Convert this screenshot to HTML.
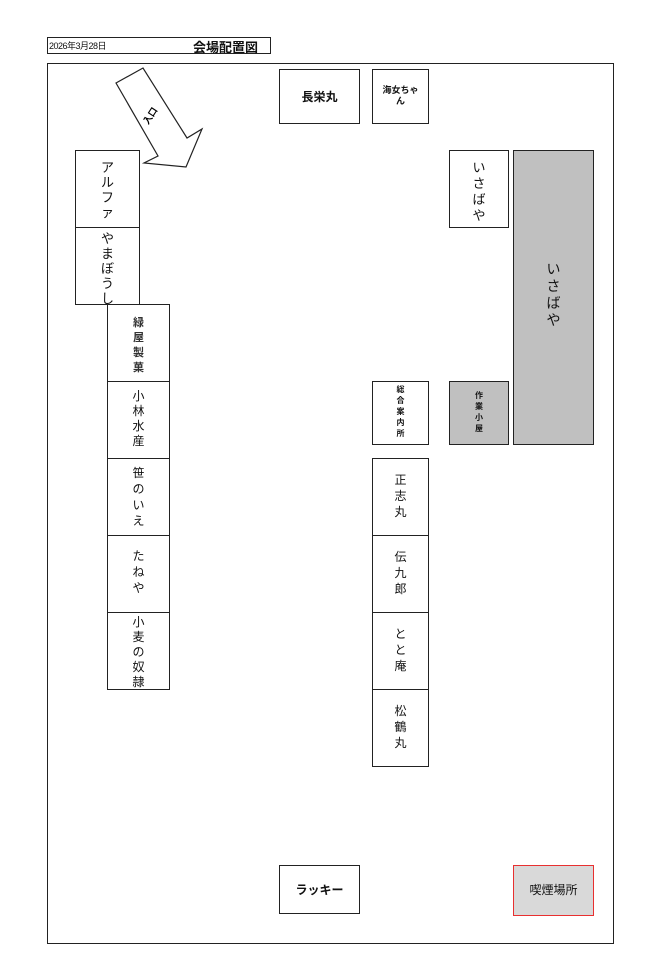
<!DOCTYPE html>
<html><head><meta charset="utf-8"><style>
body{margin:0;width:668px;height:980px;background:#fff;position:relative;font-family:"Liberation Sans","Noto Sans CJK JP",sans-serif;color:#111;overflow:hidden}
.b{position:absolute;border:1px solid #222;box-sizing:border-box;background:#fff;text-align:center;font-family:"Noto Sans CJK JP",sans-serif;overflow:hidden}
.b span{display:block;height:var(--h)}
</style></head><body>
<div class="b" style="left:47px;top:37px;width:224px;height:17px"></div>
<div style="position:absolute;left:49px;top:39px;font-size:9px;letter-spacing:-0.5px">2026年3月28日</div>
<div style="position:absolute;left:193px;top:37px;font-size:13px;font-weight:bold">会場配置図</div>
<div class="b" style="left:47px;top:63px;width:567px;height:881px;background:transparent"></div>

<svg style="position:absolute;left:0;top:0" width="668" height="980">
<polygon points="116,83 143,68 187,138 202,129 186,167 144,163 158,156" fill="#fff" stroke="#222" stroke-width="1.2"/>
<text x="0" y="0" font-size="9" font-weight="bold" font-family="Noto Sans CJK JP, sans-serif" transform="translate(148,125) rotate(-57)">入口</text>
</svg>

<div class="b" style="left:279px;top:69px;width:81px;height:55px;line-height:53px;font-size:12px;font-weight:bold">長栄丸</div>
<div class="b" style="left:372px;top:69px;width:57px;height:55px;font-size:9px;font-weight:bold;padding-top:14px;line-height:11px">海女ちゃ<br>ん</div>

<div class="b" style="left:75px;top:150px;width:65px;height:78px;font-size:13px;line-height:15px;padding-top:8px;--h:15px"><span>ア</span><span>ル</span><span>フ</span><span>ァ</span></div>
<div class="b" style="left:75px;top:227px;width:65px;height:78px;font-size:13px;line-height:15px;padding-top:2px;--h:15px"><span>や</span><span>ま</span><span>ぼ</span><span>う</span><span>し</span></div>

<div class="b" style="left:107px;top:304px;width:63px;height:78px;font-size:11px;line-height:15px;padding-top:10px;font-weight:bold;color:#333;--h:15px"><span>緑</span><span>屋</span><span>製</span><span>菓</span></div>
<div class="b" style="left:107px;top:381px;width:63px;height:78px;font-size:12px;line-height:15px;padding-top:6px;--h:15px"><span>小</span><span>林</span><span>水</span><span>産</span></div>
<div class="b" style="left:107px;top:458px;width:63px;height:78px;font-size:12px;line-height:16px;padding-top:6px;--h:16px"><span>笹</span><span>の</span><span>い</span><span>え</span></div>
<div class="b" style="left:107px;top:535px;width:63px;height:78px;font-size:12px;line-height:16px;padding-top:12px;--h:16px"><span>た</span><span>ね</span><span>や</span></div>
<div class="b" style="left:107px;top:612px;width:63px;height:78px;font-size:12px;line-height:15px;padding-top:1px;--h:15px"><span>小</span><span>麦</span><span>の</span><span>奴</span><span>隷</span></div>

<div class="b" style="left:449px;top:150px;width:60px;height:78px;font-size:13px;line-height:16px;padding-top:8px;--h:16px"><span>い</span><span>さ</span><span>ば</span><span>や</span></div>
<div class="b" style="left:513px;top:150px;width:81px;height:295px;background:#c0c0c0;font-size:14px;line-height:17px;padding-top:110px;--h:17px"><span>い</span><span>さ</span><span>ば</span><span>や</span></div>

<div class="b" style="left:372px;top:381px;width:57px;height:64px;font-size:8px;line-height:11px;padding-top:2px;font-weight:bold;--h:11px"><span>総</span><span>合</span><span>案</span><span>内</span><span>所</span></div>
<div class="b" style="left:449px;top:381px;width:60px;height:64px;background:#c0c0c0;font-size:8px;line-height:11px;padding-top:8px;font-weight:bold;--h:11px"><span>作</span><span>業</span><span>小</span><span>屋</span></div>

<div class="b" style="left:372px;top:458px;width:57px;height:78px;font-size:12px;line-height:16px;padding-top:13px;--h:16px"><span>正</span><span>志</span><span>丸</span></div>
<div class="b" style="left:372px;top:535px;width:57px;height:78px;font-size:12px;line-height:16px;padding-top:13px;--h:16px"><span>伝</span><span>九</span><span>郎</span></div>
<div class="b" style="left:372px;top:612px;width:57px;height:78px;font-size:12px;line-height:16px;padding-top:13px;--h:16px"><span>と</span><span>と</span><span>庵</span></div>
<div class="b" style="left:372px;top:689px;width:57px;height:78px;font-size:12px;line-height:16px;padding-top:13px;--h:16px"><span>松</span><span>鶴</span><span>丸</span></div>

<div class="b" style="left:279px;top:865px;width:81px;height:49px;line-height:47px;font-size:12px;font-weight:bold">ラッキー</div>
<div class="b" style="left:513px;top:865px;width:81px;height:51px;line-height:48px;font-size:12px;background:#d9d9d9;border:1.5px solid #e83030">喫煙場所</div>
</body></html>
